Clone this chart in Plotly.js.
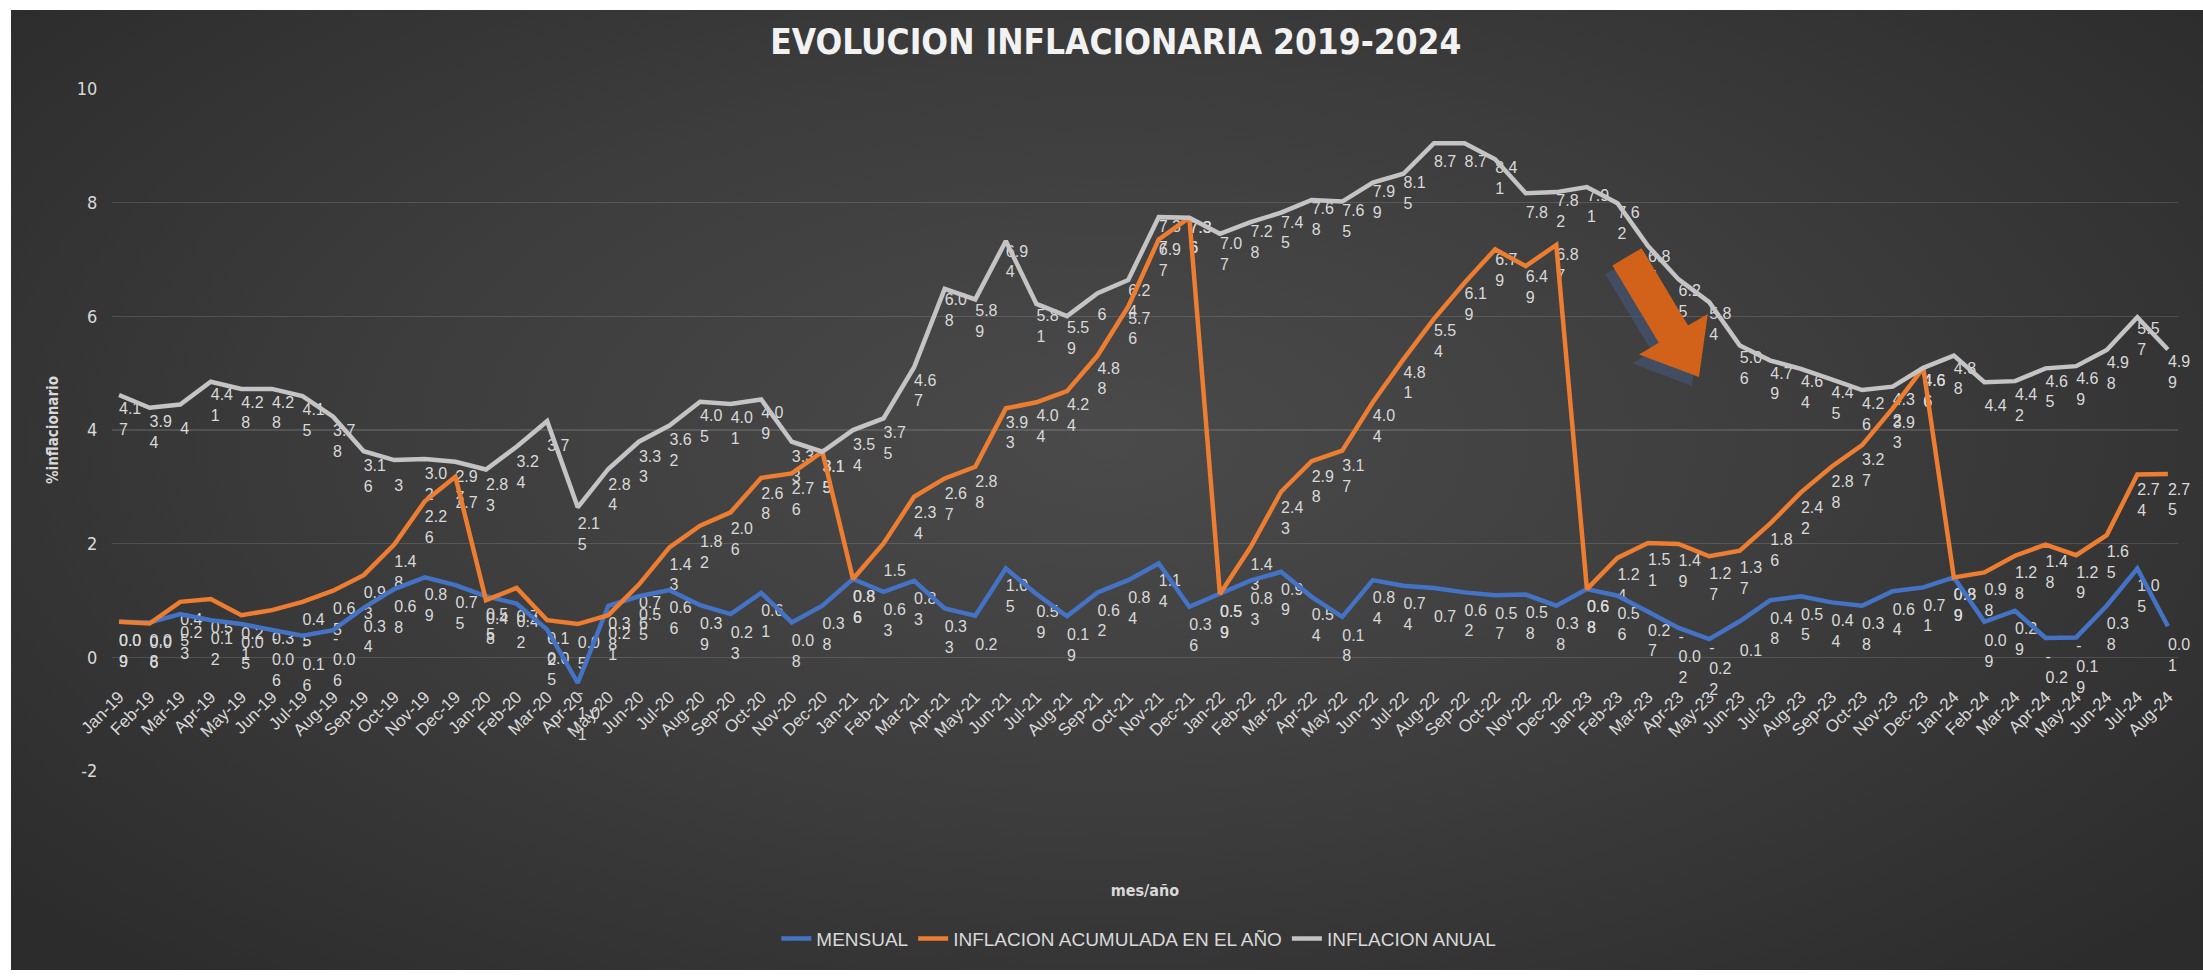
<!DOCTYPE html>
<html><head><meta charset="utf-8">
<script src="https://cdn.plot.ly/plotly-3.0.1.min.js"></script>
<style>
html,body{margin:0;padding:0;background:#ffffff;width:2203px;height:978px;overflow:hidden}
#wrap{position:absolute;left:11px;top:10px;width:2192px;height:960px;
background:radial-gradient(ellipse 65% 75% at 50% 45%, #4a4a4a 0%, #3d3d3d 50%, #2c2c2c 100%);}
#chart{width:2192px;height:960px}
</style></head><body><div id="wrap"><div id="chart"></div></div>
<script>
const months = ["Jan-19","Feb-19","Mar-19","Apr-19","May-19","Jun-19","Jul-19","Aug-19","Sep-19","Oct-19","Nov-19","Dec-19",
"Jan-20","Feb-20","Mar-20","Apr-20","May-20","Jun-20","Jul-20","Aug-20","Sep-20","Oct-20","Nov-20","Dec-20",
"Jan-21","Feb-21","Mar-21","Apr-21","May-21","Jun-21","Jul-21","Aug-21","Sep-21","Oct-21","Nov-21","Dec-21",
"Jan-22","Feb-22","Mar-22","Apr-22","May-22","Jun-22","Jul-22","Aug-22","Sep-22","Oct-22","Nov-22","Dec-22",
"Jan-23","Feb-23","Mar-23","Apr-23","May-23","Jun-23","Jul-23","Aug-23","Sep-23","Oct-23","Nov-23","Dec-23",
"Jan-24","Feb-24","Mar-24","Apr-24","May-24","Jun-24","Jul-24","Aug-24"];

const mensual = [0.09,0.08,0.23,0.12,0.05,-0.06,-0.16,-0.06,0.34,0.68,0.89,0.75,
0.55,0.42,-0.05,-1.01,0.38,0.55,0.66,0.39,0.23,0.61,0.08,0.38,
0.86,0.63,0.83,0.33,0.20,1.05,0.59,0.19,0.62,0.84,1.14,0.36,
0.59,0.83,0.99,0.54,0.18,0.84,0.74,0.70,0.62,0.57,0.58,0.38,
0.68,0.56,0.27,-0.02,-0.22,0.10,0.48,0.55,0.44,0.38,0.64,0.71,
0.89,0.09,0.29,-0.20,-0.19,0.38,1.05,0.01];

const acumulada = [0.09,0.06,0.45,0.50,0.21,0.30,0.45,0.65,0.93,1.48,2.26,2.70,
0.48,0.70,0.12,0.05,0.21,0.76,1.43,1.82,2.06,2.68,2.76,3.15,
0.86,1.50,2.34,2.67,2.88,3.93,4.04,4.24,4.88,5.76,6.97,7.36,
0.59,1.43,2.43,2.98,3.17,4.04,4.81,5.54,6.19,6.79,6.49,6.87,
0.68,1.24,1.51,1.49,1.27,1.37,1.86,2.42,2.88,3.27,3.93,4.66,
0.89,0.98,1.28,1.48,1.29,1.65,2.74,2.75];

const anual = [4.17,3.94,4.00,4.41,4.28,4.28,4.15,3.78,3.16,3.00,3.02,2.97,
2.83,3.24,3.70,2.15,2.84,3.33,3.62,4.05,4.01,4.09,3.33,3.15,
3.54,3.75,4.67,6.08,5.89,6.94,5.81,5.59,6.00,6.24,7.37,7.36,
7.07,7.28,7.45,7.68,7.65,7.99,8.15,8.70,8.70,8.41,7.80,7.82,
7.91,7.62,6.85,6.25,5.84,5.06,4.79,4.64,4.45,4.26,4.32,4.66,
4.88,4.40,4.42,4.65,4.69,4.98,5.57,4.99];

const seriesNames = ["MENSUAL","INFLACION ACUMULADA EN EL AÑO","INFLACION ANUAL"];
const seriesColors = ["#4472c4","#ed7d31","#c4c4c4"];
const yTickVals = [-2,0,2,4,6,8,10];
const yTickText = ["-2","0","2","4","6","8","10"];

const NARROW = "'Liberation Sans Narrow','DejaVu Sans Condensed','Arial Narrow',sans-serif";
const SANS = "'Liberation Sans',Arial,sans-serif";
const TXT = "#d9d9d9";

function lab(v){
  let s = String(parseFloat(v.toFixed(2)));
  const neg = s[0] === '-';
  if (neg) s = s.slice(1);
  const out = s.length > 3 ? s.slice(0,3) + '<br>' + s.slice(3) : s;
  return neg ? '-<br>' + out : out;
}

const allSeries = [mensual, acumulada, anual];
const traces = [];
allSeries.forEach((vals, i) => {
  traces.push({
    type:'scatter', mode:'lines', x: months, y: vals, yaxis:'y2',
    name: seriesNames[i], line:{color: seriesColors[i], width:4.5},
    hoverinfo:'x+y+name'
  });
});
allSeries.forEach((vals, i) => {
  traces.push({
    type:'scatter', mode:'text', x: months, y: vals, yaxis:'y',
    text: vals.map(lab), textposition:'middle right',
    textfont:{family:SANS, size:16, color:TXT},
    showlegend:false, hoverinfo:'skip', cliponaxis:false
  });
});

// plot-area geometry (px inside the chart div)
const ML = 101, MT = 79, MR = 25, MB = 194, W = 2192, H = 960, OX = 11, OY = 10;
const PW = W - ML - MR, PH = H - MT - MB;
function toPaper(X, Y){ return [((X-OX)-ML)/PW, 1-((Y-OY)-MT)/PH]; }

// decorative block arrow (page pixels)
function arrowPath(S, T, dx, dy){
  const vx = T[0]-S[0], vy = T[1]-S[1], L = Math.hypot(vx,vy);
  const u = [vx/L, vy/L], n = [u[1], -u[0]];
  const B = [T[0]-50*u[0], T[1]-50*u[1]];
  const p = (P, k) => [P[0]+k*n[0]+dx, P[1]+k*n[1]+dy];
  const pts = [p(S,17), p(B,17), p(B,40), [T[0]+dx,T[1]+dy], p(B,-40), p(B,-17), p(S,-17)];
  return 'M ' + pts.map(q => toPaper(q[0],q[1]).join(',')).join(' L ') + ' Z';
}
const arrowS = [1627, 258], arrowT = [1699, 379];

const layout = {
  width: W, height: H,
  paper_bgcolor:'rgba(0,0,0,0)', plot_bgcolor:'rgba(0,0,0,0)',
  margin:{l:ML, r:MR, t:MT, b:MB},
  font:{family:SANS, color:TXT},
  title:{text:'<b>EVOLUCION INFLACIONARIA 2019-2024</b>', x:0.504, xanchor:'center',
         y:1-32/H, yanchor:'middle', yref:'container',
         font:{family:NARROW, size:35, color:'#f2f2f2'}},
  xaxis:{type:'category', range:[-0.23, 67.33], tickmode:'array', tickvals:months, ticktext:months,
         tickangle:-45, tickfont:{family:SANS, size:17, color:TXT},
         ticks:'outside', ticklen:22, tickcolor:'rgba(0,0,0,0)',
         showgrid:false, showline:false, zeroline:false,
         anchor:'free', position:2/12, automargin:false,
         title:{text:'<b>mes/año</b>', font:{family:NARROW, size:16, color:TXT}, standoff:144}},
  yaxis:{range:[-2,10], tickmode:'array', tickvals:yTickVals, ticktext:yTickText,
         tickfont:{family:NARROW, size:18, color:TXT},
         showgrid:true, gridcolor:'rgba(255,255,255,0.13)', gridwidth:1.2, zeroline:false,
         ticks:'outside', ticklen:10, tickcolor:'rgba(0,0,0,0)', automargin:false,
         title:{text:'<b>%inflacionario</b>', font:{family:NARROW, size:15, color:TXT}, standoff:14}},
  yaxis2:{range:[-2.593, 9.675], overlaying:'y', visible:false, showgrid:false, zeroline:false},
  legend:{orientation:'h', x:0.497, xanchor:'center', y:1-((945-OY)-MT)/PH, yanchor:'middle',
          font:{family:SANS, size:19, color:TXT}, bgcolor:'rgba(0,0,0,0)'},
  showlegend:true,
  shapes:[
    {type:'path', xref:'paper', yref:'paper', layer:'above', path: arrowPath(arrowS, arrowT, -7, 9),
     fillcolor:'rgba(70,90,125,0.55)', line:{width:0}},
    {type:'path', xref:'paper', yref:'paper', layer:'above', path: arrowPath(arrowS, arrowT, 0, 0),
     fillcolor:'#d2621a', line:{width:0}}
  ]
};

Plotly.newPlot('chart', traces, layout, {displayModeBar:false, staticPlot:true});
</script>
</body></html>
